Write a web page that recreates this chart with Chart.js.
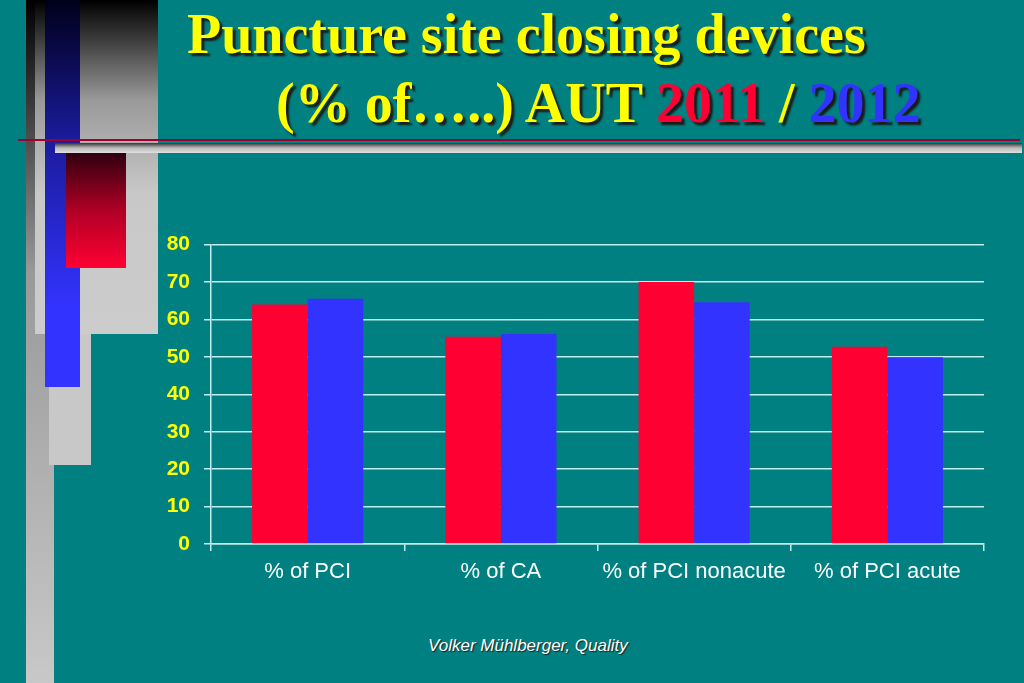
<!DOCTYPE html>
<html>
<head>
<meta charset="utf-8">
<script src="https://cdn.jsdelivr.net/npm/chart.js@4.4.1/dist/chart.umd.min.js"></script>
<style>
    html, body { margin: 0; padding: 0; }
    body {
        width: 1024px; height: 683px; overflow: hidden;
        background: #008080; position: relative;
        font-family: "Liberation Sans", Arial, sans-serif;
    }
    .deco { position: absolute; }
    .title {
        position: absolute; white-space: nowrap;
        font-family: "Liberation Serif", "Times New Roman", serif;
        font-weight: bold; font-size: 56px; line-height: 56px;
        color: #ffff00; text-shadow: 3px 3px 2px #1a1a1a;
    }
    .red { color: #ff0033; }
    .blue { color: #3333ff; }
    #chart-wrap { position: absolute; left: 150px; top: 218px; width: 850px; height: 390px; }
    .footer {
        position: absolute; left: 428px; top: 636px; white-space: nowrap;
        font-style: italic; font-size: 17px; line-height: 20px;
        color: #ffffff; text-shadow: 1px 1px 1px #202020;
    }
</style>
</head>
<body>

<!-- left-hand slide decoration -->
<div class="deco" style="left:26px;top:0;width:28px;height:683px;background:linear-gradient(#000 0%, #999 40%, #c8c8c8 100%);"></div>
<div class="deco" style="left:35px;top:0;width:123px;height:334px;background:linear-gradient(#000 0%, #999 30%, #c8c8c8 58%, #cccccc 100%);"></div>
<div class="deco" style="left:49px;top:334px;width:42px;height:131px;background:#c8c8c8;"></div>
<div class="deco" style="left:45px;top:0;width:35px;height:387px;background:linear-gradient(#00001a 0%, #1a1a99 35%, #3333ff 80%, #3333ff 100%);"></div>
<div class="deco" style="left:18px;top:139px;width:1002px;height:2px;background:#a00030;"></div>
<div class="deco" style="left:55px;top:143px;width:967px;height:10px;background:linear-gradient(#333 0%, #bbb 50%, #e0e0e0 100%);"></div>
<div class="deco" style="left:66px;top:153px;width:60px;height:115px;background:linear-gradient(#300010 0%, #b00025 50%, #ff0033 100%);"></div>

<div class="title" style="left:187px;top:6px;">Puncture site closing devices</div>
<div class="title" style="left:276px;top:75px;">(% of…..) AUT <span class="red">2011</span> / <span class="blue">2012</span></div>

<div id="chart-wrap"><canvas id="chart" width="850" height="390"></canvas></div>

<div class="footer">Volker Mühlberger, Quality</div>

<script>
// --- DATA ---
const categories = ['% of PCI', '% of CA', '% of PCI nonacute', '% of PCI acute'];
const values2011 = [64.0, 55.4, 70.0, 52.7];
const values2012 = [65.5, 56.1, 64.6, 49.9];
const yTicks = [0, 10, 20, 30, 40, 50, 60, 70, 80];

const gridColor = '#c4ecec';

function init() {
    const ctx = document.getElementById('chart').getContext('2d');
    new Chart(ctx, {
        type: 'bar',
        data: {
            labels: categories,
            datasets: [
                { label: '2011', data: values2011, backgroundColor: '#ff0033', borderWidth: 0 },
                { label: '2012', data: values2012, backgroundColor: '#3333ff', borderWidth: 0 }
            ]
        },
        options: {
            responsive: false,
            animation: false,
            categoryPercentage: 0.575,
            barPercentage: 1.0,
            layout: { padding: { left: 0, right: 16, top: 2, bottom: 0 } },
            plugins: { legend: { display: false }, tooltip: { enabled: false } },
            scales: {
                x: {
                    grid: { drawOnChartArea: false, color: gridColor, lineWidth: 1.5, tickLength: 7 },
                    border: { color: gridColor, width: 1.5 },
                    ticks: {
                        color: '#ffffff', padding: 8, maxRotation: 0,
                        font: { family: '"Liberation Sans", Arial, sans-serif', size: 22 }
                    },
                    afterFit: (scale) => { scale.height = 64; }
                },
                y: {
                    min: yTicks[0],
                    max: yTicks[yTicks.length - 1],
                    afterBuildTicks: (scale) => { scale.ticks = yTicks.map(v => ({ value: v })); },
                    grid: { color: gridColor, lineWidth: 1.5, tickLength: 7 },
                    border: { color: gridColor, width: 1.5 },
                    ticks: {
                        color: '#ffff00', padding: 14,
                        font: { family: '"Liberation Sans", Arial, sans-serif', size: 21, weight: 'bold' }
                    },
                    afterFit: (scale) => { scale.width = 61; }
                }
            }
        }
    });
}

init();
</script>
</body>
</html>
